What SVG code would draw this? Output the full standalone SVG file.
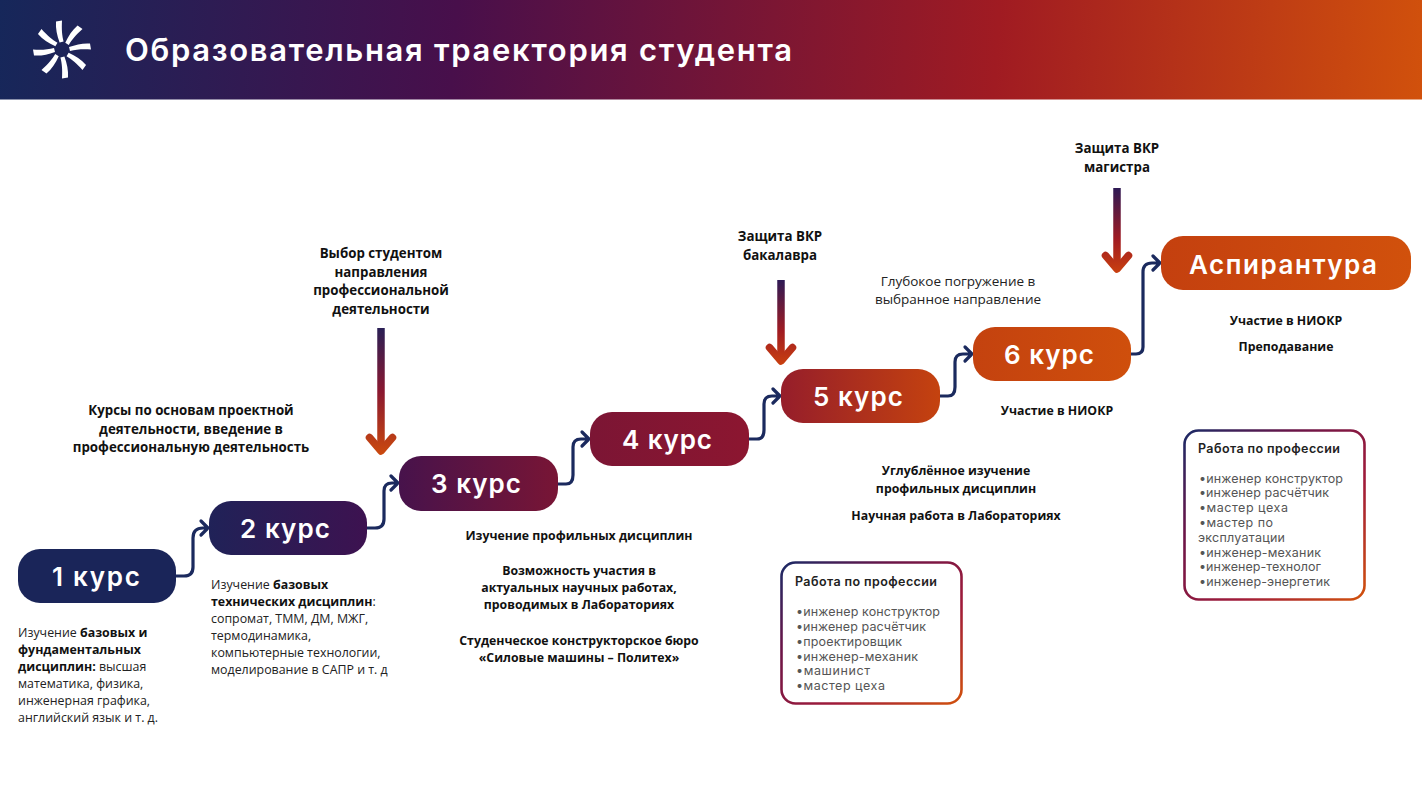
<svg xmlns="http://www.w3.org/2000/svg" width="1422" height="800" viewBox="0 0 1422 800">
<style>
text{font-family:"Open Sans","Noto Sans","Liberation Sans",sans-serif;fill:#111}
.h{font-family:Inter,"Open Sans",sans-serif;fill:#fff;font-weight:600}
.t{font-size:31px}
.n{font-size:26px;text-anchor:middle}
.b{font-size:13.3px;font-weight:700;text-anchor:middle}
.m{font-size:12.3px;font-weight:700;text-anchor:middle}
.s{font-size:13.5px;font-weight:500;text-anchor:middle;fill:#222}
.r{font-size:12.4px;fill:#222}
.r tspan.w{font-weight:700;fill:#111}
.c{fill:none;stroke:#1b2a5e;stroke-width:3.2;stroke-linecap:round;stroke-linejoin:round}
.v{fill:none;stroke-width:7.5}
.vh{fill:none;stroke-width:7.5;stroke-linecap:round;stroke-linejoin:round}
.box{fill:#fff;stroke-width:2.6}
.bt{font-family:Inter,"Open Sans",sans-serif;font-size:12.5px;font-weight:600;fill:#222}
.bl{font-family:Inter,"Open Sans",sans-serif;font-size:12.5px;fill:#555}
</style>
<defs>
<linearGradient id="g" gradientUnits="userSpaceOnUse" x1="0" y1="0" x2="1131" y2="0">
<stop offset="0" stop-color="#1a2559"/><stop offset=".157" stop-color="#1a2559"/><stop offset=".324" stop-color="#3d1250"/><stop offset=".493" stop-color="#781535"/><stop offset=".662" stop-color="#8c1630"/><stop offset=".83" stop-color="#c4420f"/><stop offset=".86" stop-color="#c4420f"/><stop offset="1" stop-color="#cf4f0c"/>
</linearGradient>
<linearGradient id="gp" gradientUnits="userSpaceOnUse" x1="1161" y1="0" x2="1411" y2="0"><stop offset="0" stop-color="#c4400f"/><stop offset="1" stop-color="#d1510c"/></linearGradient>
<linearGradient id="gh" gradientUnits="userSpaceOnUse" x1="0" y1="0" x2="1422" y2="100">
<stop offset="0" stop-color="#16275a"/><stop offset=".32" stop-color="#480f4b"/><stop offset=".7" stop-color="#a01b22"/><stop offset="1" stop-color="#d1510c"/>
</linearGradient>
<linearGradient id="a1" gradientUnits="userSpaceOnUse" x1="0" y1="328" x2="0" y2="455"><stop offset="0" stop-color="#2a1f55"/><stop offset=".5" stop-color="#8a1830"/><stop offset="1" stop-color="#cb4a0e"/></linearGradient>
<linearGradient id="a2" gradientUnits="userSpaceOnUse" x1="0" y1="280" x2="0" y2="365"><stop offset="0" stop-color="#2e1a55"/><stop offset=".6" stop-color="#a01b22"/><stop offset="1" stop-color="#c9400f"/></linearGradient>
<linearGradient id="a3" gradientUnits="userSpaceOnUse" x1="0" y1="188" x2="0" y2="273"><stop offset="0" stop-color="#2e1a55"/><stop offset=".6" stop-color="#a01b22"/><stop offset="1" stop-color="#c9400f"/></linearGradient>
<linearGradient id="b1" x1="0" y1="0" x2="1" y2="1"><stop offset="0" stop-color="#1b2a66"/><stop offset=".3" stop-color="#6a1548"/><stop offset=".65" stop-color="#a01b3a"/><stop offset="1" stop-color="#d1510c"/></linearGradient>
<path id="blade" d="M-6-28L0-29C-.5-20 0-14 1.6-8L-2.4-7C-5-14-6.5-21-6-28Z" fill="#fff"/>
</defs>

<g id="header">
<rect width="1422" height="99.5" fill="url(#gh)"/>
<g id="logo" transform="translate(62 49.5)">
<use href="#blade"/><use href="#blade" transform="rotate(45)"/><use href="#blade" transform="rotate(90)"/><use href="#blade" transform="rotate(135)"/><use href="#blade" transform="rotate(180)"/><use href="#blade" transform="rotate(225)"/><use href="#blade" transform="rotate(270)"/><use href="#blade" transform="rotate(315)"/>
</g>
<text class="h t" x="125" y="61" textLength="667" lengthAdjust="spacing">Образовательная траектория студента</text>
</g>

<g id="connectors">
<path class="c" d="M176 576H184Q193 576 193 567V538Q193 528 203 528H208M201 521L208 528L201 535"/>
<path class="c" d="M367 528H375Q384 528 384 519V491Q384 483 392 483H398M391 476L398 483L391 490"/>
<path class="c" d="M558 484H566Q573 484 573 475V447Q573 439 581 439H589M582 432L589 439L582 446"/>
<path class="c" d="M749 439H757Q764 439 764 430V404Q764 396 772 396H780M773 389L780 396L773 403"/>
<path class="c" d="M940 396H948Q955 396 955 387V362Q955 354 963 354H972M965 347L972 354L965 361"/>
<path class="c" d="M1131 354H1136Q1143 354 1143 347V272Q1143 263 1152 263H1160M1153 256L1160 263L1153 270"/>
<g id="arrow-choice"><path class="v" stroke="url(#a1)" d="M381 328V451"/><path class="vh" stroke="url(#a1)" d="M369.500 437.500L381 451L392.500 437.500"/></g>
<g id="arrow-bachelor"><path class="v" stroke="url(#a2)" d="M781 280V361"/><path class="vh" stroke="url(#a2)" d="M769.500 347.500L781 361L792.500 347.500"/></g>
<g id="arrow-master"><path class="v" stroke="url(#a3)" d="M1117 188V269"/><path class="vh" stroke="url(#a3)" d="M1105.500 255.500L1117 269L1128.500 255.500"/></g>
</g>

<g id="node-1"><rect x="18" y="549" width="158" height="54" rx="22" fill="url(#g)"/><text class="h n" x="96" y="586" textLength="88">1 курс</text></g>
<g id="node-2"><rect x="209" y="501" width="158" height="54" rx="22" fill="url(#g)"/><text class="h n" x="285" y="538" textLength="90">2 курс</text></g>
<g id="node-3"><rect x="399" y="456" width="159" height="55" rx="22" fill="url(#g)"/><text class="h n" x="476" y="493" textLength="90">3 курс</text></g>
<g id="node-4"><rect x="590" y="412" width="159" height="54" rx="22" fill="url(#g)"/><text class="h n" x="667" y="449" textLength="90">4 курс</text></g>
<g id="node-5"><rect x="781" y="369" width="159" height="54" rx="22" fill="url(#g)"/><text class="h n" x="858" y="406" textLength="90">5 курс</text></g>
<g id="node-6"><rect x="973" y="327" width="158" height="54" rx="22" fill="url(#g)"/><text class="h n" x="1049" y="364" textLength="90">6 курс</text></g>
<g id="node-asp"><rect x="1161" y="236" width="250" height="54" rx="22" fill="url(#gp)"/><text class="h n" x="1283" y="274" textLength="188">Аспирантура</text></g>

<g id="note-1"><text class="r" x="18" y="637">Изучение <tspan class="w">базовых и</tspan></text><text class="r" x="18" y="654"><tspan class="w">фундаментальных</tspan></text><text class="r" x="18" y="671"><tspan class="w">дисциплин:</tspan> высшая</text><text class="r" x="18" y="688">математика, физика,</text><text class="r" x="18" y="705">инженерная графика,</text><text class="r" x="18" y="722">английский язык и т. д.</text></g>
<g id="note-2"><text class="r" x="211" y="589">Изучение <tspan class="w">базовых</tspan></text><text class="r" x="211" y="606"><tspan class="w">технических дисциплин</tspan>:</text><text class="r" x="211" y="623">сопромат, ТММ, ДМ, МЖГ,</text><text class="r" x="211" y="640">термодинамика,</text><text class="r" x="211" y="657">компьютерные технологии,</text><text class="r" x="211" y="674">моделирование в САПР и т. д</text></g>
<g id="note-2-top"><text class="b" x="191" y="415">Курсы по основам проектной</text><text class="b" x="191" y="434">деятельности, введение в</text><text class="b" x="191" y="452">профессиональную деятельность</text></g>
<g id="note-choice"><text class="b" x="381" y="258">Выбор студентом</text><text class="b" x="381" y="277">направления</text><text class="b" x="381" y="295">профессиональной</text><text class="b" x="381" y="314">деятельности</text></g>
<g id="note-3"><text class="m" x="579" y="540">Изучение профильных дисциплин</text><text class="m" x="579" y="575">Возможность участия в</text><text class="m" x="579" y="592">актуальных научных работах,</text><text class="m" x="579" y="609">проводимых в Лабораториях</text><text class="m" x="579" y="645">Студенческое конструкторское бюро</text><text class="m" x="579" y="662">«Силовые машины – Политех»</text></g>
<g id="note-bachelor"><text class="b" x="780" y="240.500">Защита ВКР</text><text class="b" x="780" y="259.500">бакалавра</text></g>
<g id="note-master"><text class="b" x="1117" y="152.500">Защита ВКР</text><text class="b" x="1117" y="171.500">магистра</text></g>
<g id="note-deep"><text class="s" x="958" y="285.500">Глубокое погружение в</text><text class="s" x="958" y="303.500">выбранное направление</text></g>
<g id="note-niokr"><text class="m" x="1057" y="414.500">Участие в НИОКР</text></g>
<g id="note-5"><text class="m" x="956" y="474.500">Углублённое изучение</text><text class="m" x="956" y="492.500">профильных дисциплин</text><text class="m" x="956" y="519.500">Научная работа в Лабораториях</text></g>
<g id="note-asp"><text class="m" x="1286" y="324.500">Участие в НИОКР</text><text class="m" x="1286" y="350.500">Преподавание</text></g>

<g id="box-1"><rect class="box" x="781.5" y="562.5" width="180" height="141" rx="14" stroke="url(#b1)"/>
<text class="bt" x="795" y="586" textLength="142">Работа по профессии</text>
<text class="bl" x="796" y="616" textLength="144">•инженер конструктор</text>
<text class="bl" x="796" y="631" textLength="130">•инженер расчётчик</text>
<text class="bl" x="796" y="646" textLength="106">•проектировщик</text>
<text class="bl" x="796" y="661" textLength="122">•инженер-механик</text>
<text class="bl" x="796" y="675" textLength="74">•машинист</text>
<text class="bl" x="796" y="690" textLength="89">•мастер цеха</text></g>
<g id="box-2"><rect class="box" x="1184.5" y="430.500" width="180" height="169" rx="14" stroke="url(#b1)"/>
<text class="bt" x="1198" y="453" textLength="142">Работа по профессии</text>
<text class="bl" x="1199" y="483" textLength="144">•инженер конструктор</text>
<text class="bl" x="1199" y="497" textLength="130">•инженер расчётчик</text>
<text class="bl" x="1199" y="512" textLength="89">•мастер цеха</text>
<text class="bl" x="1199" y="527" textLength="74">•мастер по</text>
<text class="bl" x="1198" y="542" textLength="87">эксплуатации</text>
<text class="bl" x="1199" y="557" textLength="122">•инженер-механик</text>
<text class="bl" x="1199" y="571" textLength="122">•инженер-технолог</text>
<text class="bl" x="1199" y="586" textLength="131">•инженер-энергетик</text></g>
</svg>
